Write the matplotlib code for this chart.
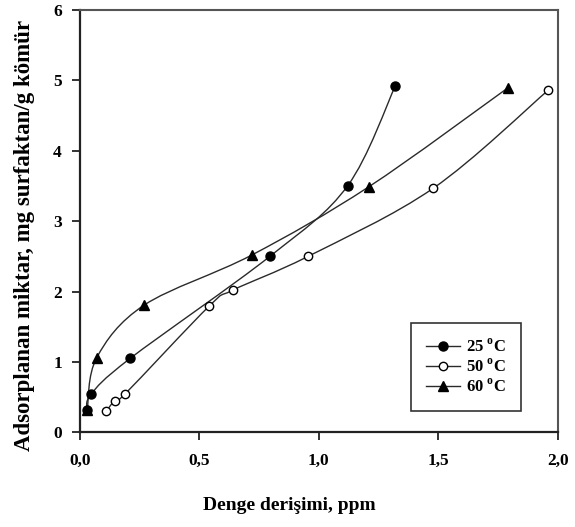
import numpy as np
import matplotlib
matplotlib.use("Agg")
import matplotlib.pyplot as plt
from matplotlib.path import Path
from matplotlib.patches import PathPatch
from matplotlib.lines import Line2D

plt.rcParams['font.family'] = ['Liberation Serif', 'DejaVu Serif']
plt.rcParams['font.weight'] = 'bold'
plt.rcParams['mathtext.fontset'] = 'custom'
plt.rcParams['mathtext.rm'] = 'Liberation Serif:bold'
plt.rcParams['mathtext.bf'] = 'Liberation Serif:bold'

# Data
x_25 = [0.03, 0.046, 0.21, 0.795, 1.12, 1.32]
y_25 = [0.31, 0.54, 1.05, 2.50, 3.50, 4.92]
x_50 = [0.11, 0.145, 0.19, 0.54, 0.64, 0.955, 1.48, 1.96]
y_50 = [0.30, 0.45, 0.55, 1.79, 2.02, 2.50, 3.47, 4.86]
x_60 = [0.03, 0.07, 0.27, 0.72, 1.21, 1.79]
y_60 = [0.31, 1.06, 1.81, 2.52, 3.49, 4.89]
labels = ['25 $^{\\mathbf{o}}$C', '50 $^{\\mathbf{o}}$C', '60 $^{\\mathbf{o}}$C']
xticks = [0.0, 0.5, 1.0, 1.5, 2.0]
xticklabels = ['0,0', '0,5', '1,0', '1,5', '2,0']
yticks = [0, 1, 2, 3, 4, 5, 6]

W, H = 575, 527
fig = plt.figure(figsize=(W / 100, H / 100), dpi=100)
ax = fig.add_axes([80 / W, 1 - 432.3 / H, (557.7 - 80) / W, (432.3 - 10) / H])


def smooth_path(xs, ys):
    """Excel-style smoothed line: Catmull-Rom converted to cubic Bezier."""
    p = np.column_stack([xs, ys]).astype(float)
    n = len(p)
    verts = [p[0]]
    codes = [Path.MOVETO]
    for i in range(n - 1):
        p0 = p[i - 1] if i > 0 else p[i]
        p1 = p[i]
        p2 = p[i + 1]
        p3 = p[i + 2] if i + 2 < n else p[i + 1]
        c1 = p1 + (p2 - p0) / 6.0
        c2 = p2 - (p3 - p1) / 6.0
        verts += [c1, c2, p2]
        codes += [Path.CURVE4] * 3
    return Path(verts, codes)


line_color = '#2a2a2a'
styles = [
    dict(marker='o', ms=6.5, mfc='black', mec='black', mew=1.0),
    dict(marker='o', ms=6, mfc='white', mec='black', mew=1.0),
    dict(marker='^', ms=7, mfc='black', mec='black', mew=1.0),
]
series = [(x_25, y_25), (x_50, y_50), (x_60, y_60)]

for (xs, ys), st in zip(series, styles):
    ax.add_patch(PathPatch(smooth_path(xs, ys), facecolor='none',
                           edgecolor=line_color, lw=1.0, zorder=2))
    ax.plot(xs, ys, ls='none', zorder=3, **st)

ax.set_xlim(0, 2)
ax.set_ylim(0, 6)
ax.set_xticks(xticks)
ax.set_xticklabels(xticklabels)
ax.set_yticks(yticks)
ax.tick_params(direction='out', length=6, width=1.3, labelsize=12.5,
               color='#222222')
ax.tick_params(axis='x', pad=9)
ax.tick_params(axis='y', pad=7)
for lab in ax.get_xticklabels() + ax.get_yticklabels():
    lab.set_fontweight('bold')

for side in ['left', 'bottom']:
    ax.spines[side].set_linewidth(1.6)
    ax.spines[side].set_color('#222222')
for side in ['top', 'right']:
    ax.spines[side].set_linewidth(1.5)
    ax.spines[side].set_color('#555555')

fig.text(289 / W, 1 - 505 / H, 'Denge derişimi, ppm', ha='center', va='center',
         fontsize=14, fontweight='bold')
fig.text(25 / W, 1 - 236 / H, 'Adsorplanan miktar, mg surfaktan/g kömür',
         rotation=90, ha='center', va='center', fontsize=16.5, fontweight='bold')

handles = [Line2D([], [], color=line_color, lw=1.0, **st) for st in styles]
leg = fig.legend(handles, labels, loc='center',
                 bbox_to_anchor=(466 / W, 1 - 367 / H),
                 fontsize=12, frameon=True, fancybox=False, shadow=False,
                 handlelength=2.0, handletextpad=0.35, labelspacing=0.15,
                 borderpad=0.95, borderaxespad=0)
leg.get_frame().set_edgecolor('black')
leg.get_frame().set_linewidth(1.2)
for t in leg.get_texts():
    t.set_fontweight('bold')

fig.savefig('out.png', dpi=100)
